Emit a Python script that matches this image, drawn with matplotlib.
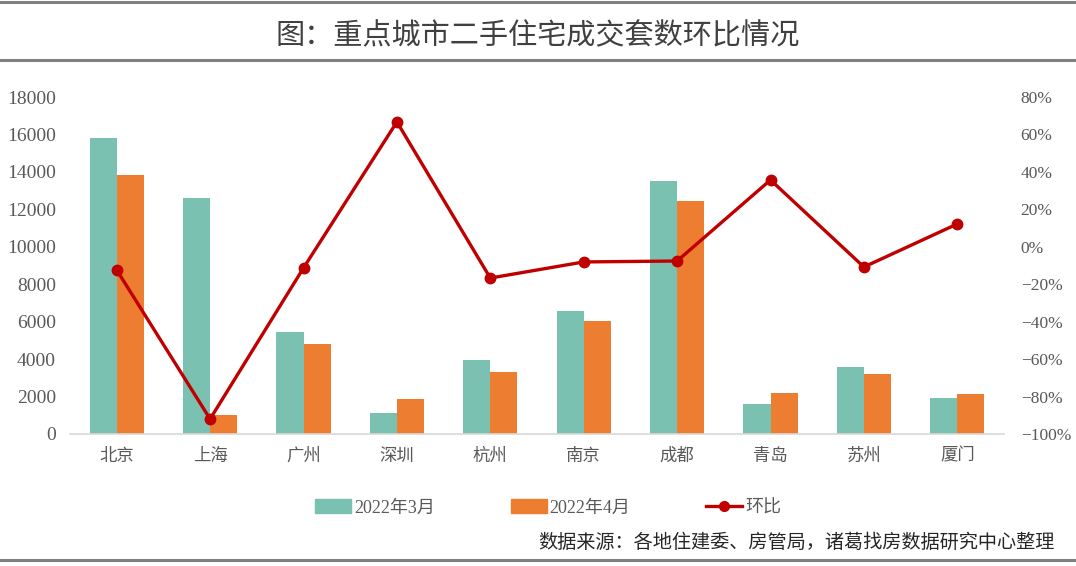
import numpy as np
import matplotlib.pyplot as plt
from matplotlib.lines import Line2D
from matplotlib.patches import Patch

plt.rcParams["font.family"] = ["Liberation Serif", "Noto Sans CJK SC", "DejaVu Sans"]

cities = ["北京", "上海", "广州", "深圳", "杭州", "南京", "成都", "青岛", "苏州", "厦门"]
march = [15810, 12600, 5450, 1120, 3950, 6570, 13510, 1600, 3580, 1920]
april = [13830, 1015, 4810, 1870, 3310, 6040, 12450, 2190, 3200, 2140]
mom = [-12.4, -92.0, -11.3, 66.7, -16.7, -8.1, -7.6, 35.7, -10.8, 12.2]

teal = "#7AC1B1"
orange = "#ED7D31"
red = "#C00000"
txt = "#595959"

W, H = 1076, 566
fig = plt.figure(figsize=(W / 100, H / 100), dpi=100)

# frame lines and title
for y in [1.5, 60, 560]:
    fig.add_artist(Line2D([0, 1], [1 - y / H, 1 - y / H], color="#808080", lw=2.2,
                          transform=fig.transFigure))
fig.text(0.5, 1 - 36 / H, "图：重点城市二手住宅成交套数环比情况", ha="center", va="center",
         fontsize=21, color="#404040", family=["Noto Sans CJK SC"])

ax = fig.add_axes([70 / W, (H - 434) / H, (1004 - 70) / W, (434 - 97) / H])
x = np.arange(len(cities))
bw = 0.29
ax.bar(x - bw / 2, march, bw, color=teal, zorder=2)
ax.bar(x + bw / 2, april, bw, color=orange, zorder=2)
ax.set_xlim(-0.5, len(cities) - 0.5)
ax.set_ylim(0, 18000)
ax.set_yticks(np.arange(0, 18001, 2000))
ax.set_xticks(x)
ax.set_xticklabels(cities, family=["Noto Sans CJK SC"])
ax.tick_params(length=0, labelsize=14, colors=txt)
ax.tick_params(axis="x", pad=9, labelsize=12.5)
ax.tick_params(axis="y", pad=10)
for s in ["top", "right", "left"]:
    ax.spines[s].set_visible(False)
ax.spines["bottom"].set_color("#D9D9D9")
ax.spines["bottom"].set_linewidth(1.2)

ax2 = ax.twinx()
ax2.plot(x, mom, color=red, lw=2.4, marker="o", markersize=7.5, zorder=3)
ax2.set_ylim(-100, 80)
ax2.set_yticks(np.arange(-100, 81, 20))
ax2.set_yticklabels([f"{v}%".replace("-", "\u2212") for v in range(-100, 81, 20)])
ax2.tick_params(length=0, labelsize=12.5, colors=txt, pad=12)
for s in ax2.spines.values():
    s.set_visible(False)

handles = [
    Patch(color=teal),
    Patch(color=orange),
    Line2D([], [], color=red, lw=2.4, marker="o", markersize=7),
]
fig.legend(handles, ["2022年3月", "2022年4月", "环比"], loc="center",
           bbox_to_anchor=(548 / W, 1 - 508 / H), ncol=3, frameon=False,
           fontsize=13, handlelength=2.0, handleheight=0.8, handletextpad=0.15,
           columnspacing=4.2, labelcolor=txt)

fig.text(1055 / W, 1 - 542 / H, "数据来源：各地住建委、房管局，诸葛找房数据研究中心整理",
         ha="right", va="center", fontsize=13.8, color="#262626",
         family=["Noto Sans CJK SC"])

fig.savefig("out.png", dpi=100)
